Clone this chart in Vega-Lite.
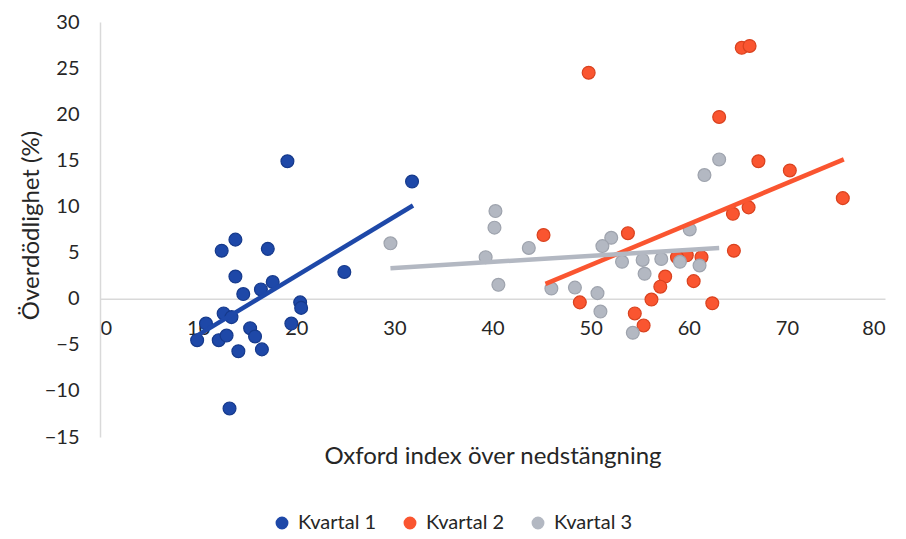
{
  "$schema": "https://vega.github.io/schema/vega-lite/v6.json",
  "width": 785,
  "height": 415,
  "autosize": {"type": "none"},
  "padding": {"left": 100, "top": 22, "right": 21, "bottom": 102},
  "background": "white",
  "config": {
    "view": {"stroke": null},
    "font": "Lato",
    "axis": {"grid": false, "ticks": false, "labelFont": "Lato", "titleFont": "Lato", "labelColor": "#262626", "titleColor": "#262626", "titleFontWeight": "normal", "labelFontSize": 20, "titleFontSize": 24, "domainColor": "#D9D9D9", "domainWidth": 1.5}
  },
  "datasets": {
    "pts": [
      {"x": 19.1, "y": 14.9, "k": "Kvartal 1"},
      {"x": 31.8, "y": 12.7, "k": "Kvartal 1"},
      {"x": 13.8, "y": 6.4, "k": "Kvartal 1"},
      {"x": 12.4, "y": 5.2, "k": "Kvartal 1"},
      {"x": 17.1, "y": 5.4, "k": "Kvartal 1"},
      {"x": 13.8, "y": 2.4, "k": "Kvartal 1"},
      {"x": 24.9, "y": 2.9, "k": "Kvartal 1"},
      {"x": 17.6, "y": 1.8, "k": "Kvartal 1"},
      {"x": 16.4, "y": 1.0, "k": "Kvartal 1"},
      {"x": 14.6, "y": 0.5, "k": "Kvartal 1"},
      {"x": 20.4, "y": -0.4, "k": "Kvartal 1"},
      {"x": 20.5, "y": -1.0, "k": "Kvartal 1"},
      {"x": 12.6, "y": -1.6, "k": "Kvartal 1"},
      {"x": 13.4, "y": -2.0, "k": "Kvartal 1"},
      {"x": 10.8, "y": -2.7, "k": "Kvartal 1"},
      {"x": 9.9, "y": -4.5, "k": "Kvartal 1"},
      {"x": 12.1, "y": -4.5, "k": "Kvartal 1"},
      {"x": 12.9, "y": -4.0, "k": "Kvartal 1"},
      {"x": 15.3, "y": -3.2, "k": "Kvartal 1"},
      {"x": 15.8, "y": -4.1, "k": "Kvartal 1"},
      {"x": 14.1, "y": -5.7, "k": "Kvartal 1"},
      {"x": 16.5, "y": -5.5, "k": "Kvartal 1"},
      {"x": 13.2, "y": -11.9, "k": "Kvartal 1"},
      {"x": 19.5, "y": -2.7, "k": "Kvartal 1"},
      {"x": 49.8, "y": 24.5, "k": "Kvartal 2"},
      {"x": 65.4, "y": 27.2, "k": "Kvartal 2"},
      {"x": 66.2, "y": 27.4, "k": "Kvartal 2"},
      {"x": 63.1, "y": 19.7, "k": "Kvartal 2"},
      {"x": 67.1, "y": 14.9, "k": "Kvartal 2"},
      {"x": 70.3, "y": 13.9, "k": "Kvartal 2"},
      {"x": 75.7, "y": 10.9, "k": "Kvartal 2"},
      {"x": 64.5, "y": 9.2, "k": "Kvartal 2"},
      {"x": 66.1, "y": 9.9, "k": "Kvartal 2"},
      {"x": 53.8, "y": 7.1, "k": "Kvartal 2"},
      {"x": 45.2, "y": 6.9, "k": "Kvartal 2"},
      {"x": 64.6, "y": 5.2, "k": "Kvartal 2"},
      {"x": 61.3, "y": 4.5, "k": "Kvartal 2"},
      {"x": 59.8, "y": 4.7, "k": "Kvartal 2"},
      {"x": 58.8, "y": 4.5, "k": "Kvartal 2"},
      {"x": 57.6, "y": 2.4, "k": "Kvartal 2"},
      {"x": 57.1, "y": 1.3, "k": "Kvartal 2"},
      {"x": 60.5, "y": 1.9, "k": "Kvartal 2"},
      {"x": 56.2, "y": -0.1, "k": "Kvartal 2"},
      {"x": 62.4, "y": -0.5, "k": "Kvartal 2"},
      {"x": 48.9, "y": -0.4, "k": "Kvartal 2"},
      {"x": 54.5, "y": -1.6, "k": "Kvartal 2"},
      {"x": 55.4, "y": -2.9, "k": "Kvartal 2"},
      {"x": 40.3, "y": 9.5, "k": "Kvartal 3"},
      {"x": 40.2, "y": 7.7, "k": "Kvartal 3"},
      {"x": 29.6, "y": 6.0, "k": "Kvartal 3"},
      {"x": 43.7, "y": 5.5, "k": "Kvartal 3"},
      {"x": 39.3, "y": 4.5, "k": "Kvartal 3"},
      {"x": 40.6, "y": 1.5, "k": "Kvartal 3"},
      {"x": 46.0, "y": 1.1, "k": "Kvartal 3"},
      {"x": 48.4, "y": 1.2, "k": "Kvartal 3"},
      {"x": 50.7, "y": 0.6, "k": "Kvartal 3"},
      {"x": 51.0, "y": -1.4, "k": "Kvartal 3"},
      {"x": 54.3, "y": -3.7, "k": "Kvartal 3"},
      {"x": 52.1, "y": 6.6, "k": "Kvartal 3"},
      {"x": 51.2, "y": 5.7, "k": "Kvartal 3"},
      {"x": 53.2, "y": 4.0, "k": "Kvartal 3"},
      {"x": 55.3, "y": 4.2, "k": "Kvartal 3"},
      {"x": 55.5, "y": 2.7, "k": "Kvartal 3"},
      {"x": 57.2, "y": 4.3, "k": "Kvartal 3"},
      {"x": 63.1, "y": 15.1, "k": "Kvartal 3"},
      {"x": 61.6, "y": 13.4, "k": "Kvartal 3"},
      {"x": 60.1, "y": 7.5, "k": "Kvartal 3"},
      {"x": 59.1, "y": 4.0, "k": "Kvartal 3"},
      {"x": 61.1, "y": 3.6, "k": "Kvartal 3"}
    ],
    "trend": [
      {"x": 9.9, "y": -4.0, "k": "Kvartal 1"},
      {"x": 31.9, "y": 10.1, "k": "Kvartal 1"},
      {"x": 45.4, "y": 1.6, "k": "Kvartal 2"},
      {"x": 75.8, "y": 15.1, "k": "Kvartal 2"},
      {"x": 29.6, "y": 3.3, "k": "Kvartal 3"},
      {"x": 63.1, "y": 5.5, "k": "Kvartal 3"}
    ]
  },
  "layer": [
    {
      "data": {"name": "pts"},
      "mark": {"type": "point", "filled": true, "size": 165, "strokeWidth": 1.2, "opacity": 1},
      "encoding": {
        "x": {"field": "x", "type": "quantitative", "scale": {"domain": [0, 80], "nice": false, "zero": false},
          "axis": {"values": [0, 10, 20, 30, 40, 50, 60, 70, 80], "offset": -138.3, "labelPadding": 20, "labelBaseline": "top", "title": "Oxford index över nedstängning", "titleY": 146, "titleBaseline": "top"}},
        "y": {"field": "y", "type": "quantitative", "scale": {"domain": [-15, 30], "nice": false, "zero": false},
          "axis": {"values": [-15, -10, -5, 0, 5, 10, 15, 20, 25, 30], "labelPadding": 21, "title": "Överdödlighet (%)", "titleX": -69, "titleY": 203, "titleAngle": -90, "titleAlign": "center", "titleBaseline": "middle"}},
        "color": {"field": "k", "type": "nominal",
          "scale": {"domain": ["Kvartal 1", "Kvartal 2", "Kvartal 3"], "range": ["#1E48A8", "#FA5530", "#B3B8C2"]},
          "legend": {"title": null, "orient": "none", "legendX": 172, "legendY": 491, "direction": "horizontal", "symbolType": "circle", "symbolSize": 130, "labelFontSize": 20, "labelFont": "Lato", "labelColor": "#262626", "columnPadding": 23, "labelOffset": 6}},
        "stroke": {"field": "k", "type": "nominal",
          "scale": {"domain": ["Kvartal 1", "Kvartal 2", "Kvartal 3"], "range": ["#163A8C", "#D9421F", "#9EA3AD"]}, "legend": null}
      }
    },
    {
      "data": {"name": "trend"},
      "mark": {"type": "line", "strokeWidth": 4.5, "strokeCap": "butt"},
      "encoding": {
        "x": {"field": "x", "type": "quantitative"},
        "y": {"field": "y", "type": "quantitative"},
        "detail": {"field": "k"},
        "color": {"field": "k", "type": "nominal"}
      }
    }
  ]
}
